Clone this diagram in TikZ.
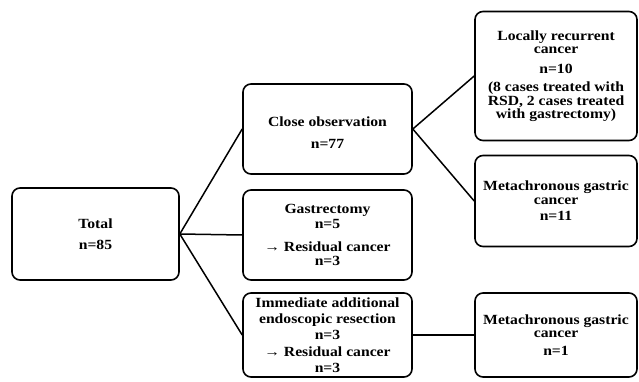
\documentclass[tikz,border=0pt]{standalone}
\usepackage{fontspec}
\setmainfont{Liberation Serif}[FakeStretch=1.12]
\begin{document}
\begin{tikzpicture}[x=1pt,y=1pt,
  box/.style={draw=black, line width=1.6pt, rounded corners=8pt, align=center,
    inner sep=0pt, font=\bfseries\fontsize{14}{13.5}\selectfont},
  link/.style={line width=1.5pt}]
\useasboundingbox (0,0) rectangle (639,381);
\node[box, minimum width=167pt, minimum height=92pt] (total) at (95.5,147) {Total\\[7pt]n=85};
\node[box, minimum width=169pt, minimum height=90pt] (close) at (327.5,252) {\rule{0pt}{17pt}Close observation\\[8pt]n=77};
\node[box, minimum width=169pt, minimum height=90pt] (gast) at (327.5,146) {Gastrectomy\\[2pt]n=5\\[9pt]\textrightarrow\ Residual cancer\\[1pt]n=3};
\node[box, minimum width=169pt, minimum height=84pt] (immed) at (327.5,46) {Immediate additional\\[2.5pt]endoscopic resection\\[2pt]n=3\\[4pt]\textrightarrow\ Residual cancer\\[2pt]n=3};
\node[box, minimum width=162pt, minimum height=129pt] (local) at (556,305) {Locally recurrent\\cancer\\[6pt]n=10\\[5pt](8 cases treated with\\RSD, 2 cases treated\\with gastrectomy)};
\node[box, minimum width=162pt, minimum height=91pt] (meta) at (556,180) {Metachronous gastric\\cancer\\[3pt]n=11};
\node[box, minimum width=162pt, minimum height=84pt] (meta1) at (556,46) {Metachronous gastric\\cancer\\[4pt]n=1};
\draw[link] (total.east) -- (close.west);
\draw[link] (total.east) -- (gast.west);
\draw[link] (total.east) -- (immed.west);
\draw[link] (close.east) -- (local.west);
\draw[link] (close.east) -- (meta.west);
\draw[link] (immed.east) -- (meta1.west);
\end{tikzpicture}
\end{document}
